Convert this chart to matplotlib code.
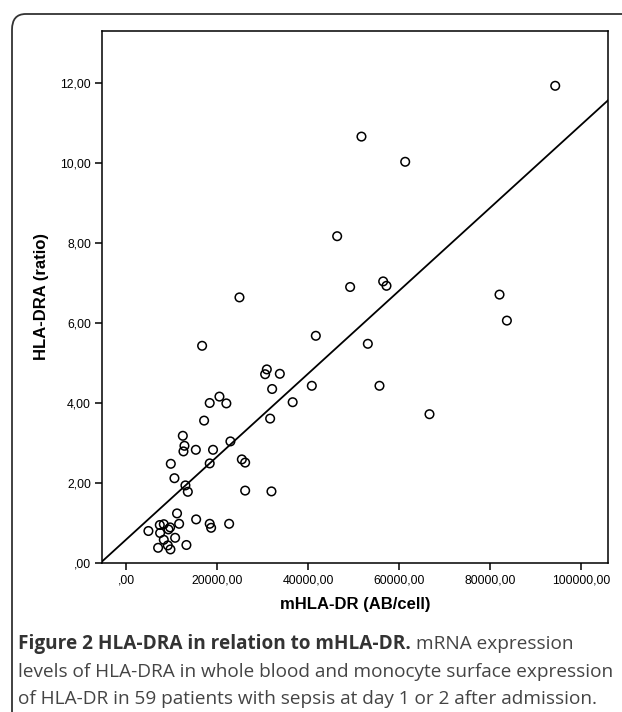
import matplotlib.pyplot as plt
import numpy as np
from matplotlib.patches import FancyBboxPatch

# mHLA-DR (AB/cell) vs HLA-DRA ratio, 59 patients
mhla_dr = [32090, 40810, 20510, 18370, 22030, 36600, 17140, 31650, 12460, 12820,
           12600, 15320, 19100, 22920, 9820, 18370, 25430, 26160, 10620, 13030,
           13560, 26160, 31940, 11190, 15390, 11650, 4900, 7400, 8280, 9670,
           9300, 7470, 10770, 8280, 18370, 18680, 22640, 7030, 9160, 9740,
           13250, 94300, 51720, 61330, 46380, 49230, 56490, 57220, 82060, 83680,
           41690, 53120, 55680, 66670, 24910, 16700, 30920, 30550, 33780]
hla_dra = [4.35, 4.43, 4.16, 4.00, 3.99, 4.02, 3.56, 3.61, 3.18, 2.93,
           2.79, 2.83, 2.83, 3.04, 2.48, 2.49, 2.59, 2.51, 2.12, 1.94,
           1.78, 1.81, 1.79, 1.24, 1.09, 0.98, 0.80, 0.95, 0.97, 0.89,
           0.84, 0.75, 0.63, 0.58, 0.98, 0.88, 0.98, 0.38, 0.44, 0.34,
           0.45, 11.93, 10.66, 10.03, 8.17, 6.90, 7.04, 6.93, 6.71, 6.06,
           5.68, 5.48, 4.43, 3.72, 6.64, 5.43, 4.84, 4.72, 4.73]

x_ticks = [0, 20000, 40000, 60000, 80000, 100000]
x_tick_labels = [",00", "20000,00", "40000,00", "60000,00", "80000,00", "100000,00"]
y_ticks = [0, 2, 4, 6, 8, 10, 12]
y_tick_labels = [",00", "2,00", "4,00", "6,00", "8,00", "10,00", "12,00"]

plt.rcParams["font.family"] = ["Liberation Sans", "DejaVu Sans"]

fig = plt.figure(figsize=(6.22, 7.12), dpi=100)

# rounded frame around the figure (open to the right and bottom)
frame = FancyBboxPatch((12 / 622, -0.1), 1.2, 0.1 + 1 - 14 / 712,
                       boxstyle="round,pad=0,rounding_size=0.022",
                       transform=fig.transFigure, fill=False,
                       edgecolor="#333333", linewidth=1.3, clip_on=False)
fig.patches.append(frame)

ax = fig.add_axes([102 / 622, 1 - 563 / 712, (608 - 102) / 622, (563 - 31) / 712])

ax.scatter(mhla_dr, hla_dra, s=38, facecolors="none", edgecolors="black",
           linewidths=1.1, zorder=3)

xlim = (-5300, 105900)
ylim = (0, 13.3)

# linear fit line
slope, intercept = np.polyfit(mhla_dr, hla_dra, 1)
xs = np.array(xlim)
ax.plot(xs, slope * xs + intercept, color="black", linewidth=1.3)

ax.set_xlim(xlim)
ax.set_ylim(ylim)

ax.set_xticks(x_ticks)
ax.set_xticklabels(x_tick_labels)
ax.set_yticks(y_ticks)
ax.set_yticklabels(y_tick_labels)
ax.tick_params(direction="out", length=5, width=1.1, labelsize=8.8, pad=3)

for sp in ax.spines.values():
    sp.set_linewidth(1.1)

ax.set_xlabel("mHLA-DR (AB/cell)", fontsize=12, fontweight="bold", labelpad=8)
ax.set_ylabel("HLA-DRA (ratio)", fontsize=12, fontweight="bold", labelpad=8)

# caption
cap_font = ["Open Sans", "DejaVu Sans"]
t1 = fig.text(18 / 622, 1 - 644 / 712, "Figure 2 HLA-DRA in relation to mHLA-DR.",
              fontsize=13.7, fontweight="bold", family=cap_font, color="#333333",
              va="center", ha="left")
fig.canvas.draw()
bb = t1.get_window_extent()
fig.text(bb.x1 / 622 + 0.008, 1 - 644 / 712, "mRNA expression",
         fontsize=13.7, family=cap_font, color="#444444", va="center", ha="left")
fig.text(18 / 622, 1 - 672 / 712,
         "levels of HLA-DRA in whole blood and monocyte surface expression",
         fontsize=13.7, family=cap_font, color="#444444", va="center", ha="left")
fig.text(18 / 622, 1 - 699 / 712,
         "of HLA-DR in 59 patients with sepsis at day 1 or 2 after admission.",
         fontsize=13.7, family=cap_font, color="#444444", va="center", ha="left")

fig.savefig("out.png", dpi=100)
